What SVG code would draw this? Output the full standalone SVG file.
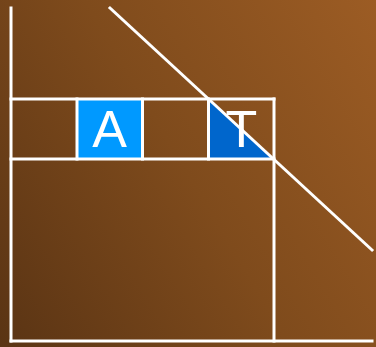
<svg xmlns="http://www.w3.org/2000/svg" width="376" height="347" viewBox="0 0 376 347">
<defs>
<linearGradient id="bg" gradientUnits="userSpaceOnUse" x1="0" y1="347" x2="430" y2="91">
<stop offset="0" stop-color="#5a3414"/>
<stop offset="0.5" stop-color="#7f4b1c"/>
<stop offset="1" stop-color="#9c5c24"/>
</linearGradient>
<style>
.ln{stroke:#fff;stroke-width:3;fill:none;stroke-linecap:square}
.lbl{font-family:"Liberation Sans",Arial,sans-serif;font-size:52px;fill:#fff;text-anchor:middle}
</style>
</defs>
<rect width="376" height="347" fill="url(#bg)"/>
<g id="cellA">
<rect x="77" y="99" width="65.5" height="60" fill="#0099ff"/>
<text class="lbl" x="109.6" y="147">A</text>
</g>
<g id="cellT">
<polygon points="208.5,99 208.5,159 274,159" fill="#0066cc"/>
<text class="lbl" x="241.5" y="147">T</text>
</g>
<g id="connectors">
<line class="ln" x1="11" y1="8" x2="11" y2="341"/>
<line class="ln" x1="11" y1="341" x2="372" y2="341"/>
<line class="ln" x1="11" y1="99" x2="274" y2="99"/>
<line class="ln" x1="11" y1="159" x2="274" y2="159"/>
<line class="ln" x1="77" y1="99" x2="77" y2="159"/>
<line class="ln" x1="142.5" y1="99" x2="142.5" y2="159"/>
<line class="ln" x1="208.5" y1="99" x2="208.5" y2="159"/>
<line class="ln" x1="274" y1="99" x2="274" y2="341"/>
<line class="ln" x1="110" y1="8" x2="372" y2="250" stroke-linecap="round"/>
</g>
</svg>
